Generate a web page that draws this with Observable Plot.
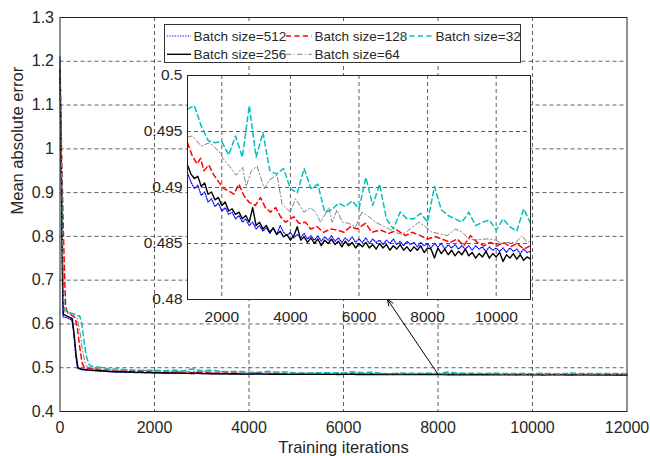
<!DOCTYPE html>
<html><head><meta charset="utf-8">
<script src="https://cdn.jsdelivr.net/npm/d3@7"></script>
<script src="https://cdn.jsdelivr.net/npm/@observablehq/plot@0.6"></script>
<style>
body{margin:0;background:#fff;}
#wrap{position:relative;width:650px;height:456px;font-family:"Liberation Sans",Arial,sans-serif;}
#wrap > svg{position:absolute;left:0;top:0;}
#legend{position:absolute;left:164px;top:24px;width:357px;height:39px;box-sizing:border-box;border:1px solid #333;background:#fff;}
</style></head><body><div id="wrap"></div>
<script>
// ---------- data ----------
const seriesNames = ["Batch size=512","Batch size=128","Batch size=32","Batch size=256","Batch size=64"];
const xTicksMain = [0,2000,4000,6000,8000,10000,12000];
const yTicksMain = [0.4,0.5,0.6,0.7,0.8,0.9,1.0,1.1,1.2,1.3];
const xTicksInset = [2000,4000,6000,8000,10000];
const yTicksInset = [0.48,0.485,0.49,0.495,0.5];

// early training phase (iteration, MAE) - main plot only
const early512 = [[0,1.21],[25,0.95],[50,0.70],[65,0.616],[150,0.614],[250,0.609],[290,0.58],[330,0.53],[370,0.499],[450,0.4955],[600,0.494],[800,0.4925]];
const early256 = [[0,1.18],[30,0.93],[55,0.70],[70,0.622],[150,0.618],[260,0.612],[300,0.575],[340,0.53],[380,0.5],[450,0.497],[600,0.495],[800,0.4935]];
const early128 = [[0,1.2],[35,0.98],[65,0.84],[80,0.78],[100,0.70],[120,0.64],[150,0.628],[200,0.624],[320,0.614],[370,0.59],[420,0.545],[470,0.51],[510,0.501],[600,0.4985],[800,0.4965]];
const early64  = [[0,1.2],[30,0.97],[55,0.78],[72,0.665],[88,0.628],[200,0.623],[360,0.615],[420,0.585],[470,0.545],[530,0.51],[580,0.501],[700,0.4985],[850,0.4965]];
const early32  = [[0,1.2],[30,0.97],[55,0.78],[72,0.67],[90,0.632],[200,0.626],[420,0.618],[460,0.6],[510,0.56],[560,0.525],[620,0.506],[700,0.502],[850,0.501],[950,0.4995]];

// later phase 1000..11000 (shown in the inset)
const denseStart = 1000, denseStep = 100;
const mae512 = [
0.4913,0.4905,0.4899,0.4902,0.4893,0.4896,0.4887,0.4890,0.4883,0.4886,
0.4879,0.4882,0.4876,0.4878,0.4872,0.4875,0.4869,0.4872,0.4866,0.4869,
0.4863,0.4866,0.4861,0.4864,0.4859,0.4864,0.4858,0.4866,0.4860,0.4857,
0.4860,0.4855,0.4858,0.4855,0.4859,0.4854,0.4857,0.4853,0.4857,0.4852,
0.4856,0.4853,0.4857,0.4852,0.4855,0.4851,0.4855,0.4852,0.4856,0.4851,
0.4854,0.4851,0.4855,0.4850,0.4854,0.4851,0.4853,0.4849,0.4853,0.4850,
0.4854,0.4849,0.4852,0.4848,0.4852,0.4849,0.4851,0.4847,0.4851,0.4848,
0.4850,0.4846,0.4850,0.4847,0.4850,0.4845,0.4849,0.4846,0.4849,0.4845,
0.4848,0.4845,0.4848,0.4844,0.4848,0.4845,0.4847,0.4843,0.4847,0.4844,
0.4846,0.4843,0.4846,0.4842,0.4846,0.4843,0.4845,0.4841,0.4845,0.4842,
0.4843];
const mae256 = [
0.4920,0.4912,0.4908,0.4910,0.4901,0.4904,0.4894,0.4896,0.4889,0.4891,
0.4884,0.4887,0.4879,0.4881,0.4876,0.4878,0.4872,0.4875,0.4869,0.4882,
0.4866,0.4869,0.4863,0.4866,0.4860,0.4864,0.4858,0.4861,0.4856,0.4858,
0.4853,0.4857,0.4865,0.4853,0.4856,0.4851,0.4855,0.4850,0.4854,0.4848,
0.4853,0.4850,0.4854,0.4849,0.4852,0.4847,0.4852,0.4848,0.4851,0.4846,
0.4850,0.4847,0.4851,0.4846,0.4849,0.4845,0.4850,0.4846,0.4849,0.4844,
0.4848,0.4845,0.4849,0.4844,0.4847,0.4843,0.4847,0.4844,0.4848,0.4842,
0.4846,0.4845,0.4837,0.4846,0.4841,0.4845,0.4840,0.4844,0.4839,0.4843,
0.4840,0.4845,0.4839,0.4842,0.4837,0.4841,0.4838,0.4843,0.4837,0.4841,
0.4838,0.4842,0.4834,0.4840,0.4837,0.4841,0.4836,0.4840,0.4835,0.4838,
0.4836];
const cyanStart = 1000, cyanStep = 200;
const mae32 = [0.4970,0.4973,0.4955,0.4942,0.4940,0.4941,0.4929,0.4946,0.4927,0.4973,
0.4927,0.4949,0.4915,0.4912,0.4917,0.4899,0.4895,0.4917,0.4899,0.4903,
0.4878,0.4880,0.4886,0.4883,0.4888,0.4881,0.4909,0.4884,0.4903,0.4872,
0.4863,0.4878,0.4872,0.4872,0.4877,0.4869,0.4901,0.4880,0.4875,0.4872,
0.4869,0.4878,0.4866,0.4869,0.4871,0.4862,0.4872,0.4865,0.4861,0.4881,0.4868];
const mae128 = [[1000,0.4940],[1130,0.4929],[1280,0.4921],[1380,0.4926],[1480,0.4915],[1620,0.4920],[1770,0.4911],[1910,0.4905],[2060,0.4899],[2200,0.4897],[2350,0.4894],[2500,0.4903],[2640,0.4893],[2790,0.4887],[2980,0.4884],[3130,0.4891],[3270,0.4882],[3420,0.4878],[3570,0.4882],[3710,0.4874],[3860,0.4869],[4100,0.4874],[4250,0.4868],[4440,0.4869],[4590,0.4863],[4780,0.4865],[4970,0.4860],[5170,0.4863],[5360,0.4862],[5560,0.4860],[5750,0.4865],[5950,0.4863],[6190,0.4868],[6380,0.4860],[6630,0.4862],[6870,0.4859],[7110,0.4862],[7355,0.4857],[7550,0.4860],[7790,0.4857],[7990,0.4854],[8230,0.4856],[8420,0.4854],[8670,0.4851],[8860,0.4854],[9055,0.4848],[9250,0.4857],[9445,0.4851],[9640,0.4848],[9830,0.4851],[10030,0.4848],[10220,0.4851],[10415,0.4847],[10610,0.4850],[10805,0.4845],[11000,0.4848]];
const mae64 = [[1000,0.4945],[1140,0.4946],[1400,0.4937],[1640,0.4940],[1930,0.4932],[2030,0.4926],[2280,0.4917],[2420,0.4911],[2610,0.4918],[2710,0.4901],[2860,0.4915],[3030,0.4919],[3240,0.4899],[3390,0.4907],[3610,0.4911],[3760,0.4885],[4000,0.4878],[4150,0.4890],[4390,0.4878],[4590,0.4882],[4730,0.4878],[4880,0.4869],[5120,0.4882],[5220,0.4869],[5360,0.4880],[5510,0.4869],[5700,0.4868],[5900,0.4865],[6090,0.4878],[6290,0.4874],[6480,0.4869],[6680,0.4866],[6870,0.4863],[7060,0.4860],[7260,0.4858],[7500,0.4863],[7740,0.4869],[7890,0.4866],[8130,0.4860],[8320,0.4859],[8570,0.4857],[8810,0.4863],[9010,0.4860],[9200,0.4854],[9400,0.4853],[9600,0.4854],[9790,0.4854],[9980,0.4853],[10180,0.4850],[10380,0.4851],[10570,0.4851],[10760,0.4857],[10900,0.4851],[11000,0.4852]];
// value at 12000 iterations
const final12000 = [0.4842,0.4845,0.4865,0.4835,0.4850];
// arrow from the main curve to the inset
const arrowLink = [{x1:8000, y1:0.485, x2:6930, y2:0.656}];

// ---------- styles ----------
const seriesStyle = [
  {color:"#0000ff", dash:"1.2,1.4", width:1.2},
  {color:"#ff0000", dash:"5,3.5", width:1.5},
  {color:"#00bfbf", dash:"5,3.5", width:1.5},
  {color:"#000000", dash:null, width:1.4},
  {color:"#808080", dash:"5,2.5,1.2,2.5", width:1}
];

// ---------- build tables ----------
const toRows = pairs => pairs.map(([it, v]) => ({it, v}));
const gridRows = (start, step, vals) => vals.map((v, i) => ({it: start + i*step, v}));
const insetRows = [
  gridRows(denseStart, denseStep, mae512),
  toRows(mae128),
  gridRows(cyanStart, cyanStep, mae32),
  gridRows(denseStart, denseStep, mae256),
  toRows(mae64)
];
const earlyRows = [early512, early128, early32, early256, early64].map(toRows);
const mainRows = insetRows.map((r, i) => earlyRows[i].concat(r, [{it:12000, v:final12000[i]}]));

const lineMark = (rows, s) => Plot.line(rows, {x:"it", y:"v", stroke:s.color, strokeWidth:s.width,
  strokeDasharray: s.dash || undefined, strokeLinejoin:"round"});
const gridStyle = {stroke:"#222", strokeOpacity:0.9, strokeWidth:0.8, strokeDasharray:"4,3"};
const font = '"Liberation Sans", Arial, sans-serif';

const mainPlot = Plot.plot({
  width:650, height:456,
  marginLeft:59.5, marginRight:23.5, marginTop:17, marginBottom:45,
  style:{fontFamily:font, fontSize:"16px", color:"#262626", background:"white"},
  x:{domain:[0,12000], ticks:xTicksMain, tickFormat:d=>String(d), tickSize:0, tickPadding:10, label:null},
  y:{domain:[0.4,1.3], ticks:yTicksMain, tickFormat:d=>String(+d.toFixed(1)), tickSize:0, tickPadding:6, label:null},
  marks:[
    Plot.ruleX(xTicksMain.slice(1,-1), gridStyle),
    Plot.ruleY(yTicksMain.slice(1,-1), gridStyle),
    ...mainRows.map((r,i) => lineMark(r, seriesStyle[i])),
    Plot.arrow(arrowLink, {x1:"x1", y1:"y1", x2:"x2", y2:"y2", stroke:"black", strokeWidth:1, headLength:10, headAngle:45, bend:0}),
    Plot.frame({stroke:"#222", strokeWidth:1}),
    Plot.text(["Training iterations"], {text:d=>d, frameAnchor:"bottom", dy:30, lineAnchor:"top", fontSize:16.5, fill:"#262626"}),
    Plot.text(["Mean absolute error"], {text:d=>d, frameAnchor:"left", dx:-42, rotate:-90, fontSize:16.5, fill:"#262626"})
  ]
});

const insetPlot = Plot.plot({
  width:650, height:456,
  marginLeft:187, marginRight:120, marginTop:75, marginBottom:157,
  style:{fontFamily:font, fontSize:"15.5px", color:"#262626", background:"transparent", pointerEvents:"none"},
  x:{domain:[1000,11000], ticks:xTicksInset, tickFormat:d=>String(d), tickSize:0, tickPadding:11, label:null},
  y:{domain:[0.48,0.5], ticks:yTicksInset, tickFormat:d=>String(+d.toFixed(3)), tickSize:0, tickPadding:5, label:null},
  marks:[
    Plot.frame({fill:"white"}),
    Plot.ruleX(xTicksInset, gridStyle),
    Plot.ruleY(yTicksInset.slice(1,-1), gridStyle),
    ...insetRows.map((r,i) => lineMark(r, seriesStyle[i])),
    Plot.frame({stroke:"#222", strokeWidth:1})
  ]
});

const wrap = document.getElementById("wrap");
wrap.appendChild(mainPlot);
wrap.appendChild(insetPlot);

// ---------- legend ----------
const legend = document.createElement("div");
legend.id = "legend";
const legendPos = [[0,0],[1,0],[2,0],[0,1],[1,1]];
const colX = [[2,26,28.5],[121,147,149.5],[236,268,270.5]];
const rowY = [11, 29.3];
const ns = "http://www.w3.org/2000/svg";
const lsvg = document.createElementNS(ns, "svg");
lsvg.setAttribute("width", 355); lsvg.setAttribute("height", 37);
lsvg.style.display = "block";
seriesNames.forEach((name, i) => {
  const [c, r] = legendPos[i];
  const s = seriesStyle[i];
  const ln = document.createElementNS(ns, "line");
  ln.setAttribute("x1", colX[c][0]); ln.setAttribute("x2", colX[c][1]);
  ln.setAttribute("y1", rowY[r]); ln.setAttribute("y2", rowY[r]);
  ln.setAttribute("stroke", s.color); ln.setAttribute("stroke-width", s.width);
  if (s.dash) ln.setAttribute("stroke-dasharray", s.dash);
  lsvg.appendChild(ln);
  const t = document.createElementNS(ns, "text");
  t.setAttribute("x", colX[c][2]); t.setAttribute("y", rowY[r]);
  t.setAttribute("dy", "0.35em");
  t.setAttribute("font-family", font); t.setAttribute("font-size", "13.5px");
  t.setAttribute("fill", "#262626");
  t.textContent = name;
  lsvg.appendChild(t);
});
legend.appendChild(lsvg);
wrap.appendChild(legend);
</script></body></html>
